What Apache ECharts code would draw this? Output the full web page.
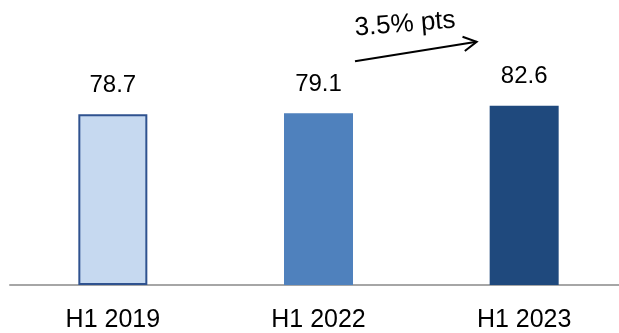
<!DOCTYPE html>
<html>
<head>
<meta charset="utf-8">
<script src="https://cdn.jsdelivr.net/npm/echarts@6/dist/echarts.min.js"></script>
<style>
  html, body { margin: 0; padding: 0; background: #fff; }
  #chart { width: 619px; height: 333px; }
</style>
</head>
<body>
<div id="chart"></div>
<script>
// Half-year periods and their values
const periods = ['H1 2019', 'H1 2022', 'H1 2023'];
const values = [78.7, 79.1, 82.6];
const barColors = ['#c6d9f0', '#4f81bd', '#1f497d'];
const changeLabel = '3.5% pts';

const FONT = '"Liberation Sans", Arial, sans-serif';

const chart = echarts.init(document.getElementById('chart'), null, { renderer: 'canvas' });

const option = {
  animation: false,
  backgroundColor: '#fff',
  grid: {
    left: 10, width: 617, top: 68, height: 217,
    outerBoundsMode: 'none',
    containLabel: false
  },
  xAxis: {
    type: 'category',
    data: periods,
    axisLine: { show: true, lineStyle: { color: '#a6a6a6', width: 2 } },
    axisTick: { show: false },
    axisLabel: { color: '#000', fontFamily: FONT, fontSize: 25, margin: 23 }
  },
  yAxis: {
    type: 'value',
    min: 0,
    max: 100,
    show: false,
    splitLine: { show: false }
  },
  series: [{
    type: 'bar',
    barWidth: 69,
    data: values.map((v, i) => ({
      value: v,
      itemStyle: i === 0
        ? { color: barColors[i], borderColor: '#2f528f', borderWidth: 2 }
        : { color: barColors[i] }
    })),
    label: {
      show: true,
      position: 'top',
      distance: 17,
      color: '#000',
      fontFamily: FONT,
      fontSize: 24,
      formatter: p => p.value.toFixed(1)
    }
  }]
};

chart.setOption(option);

// Trend arrow between the last two bars, placed from the axis scales
const p2 = chart.convertToPixel({ gridIndex: 0 }, [1, values[1]]);
const p3 = chart.convertToPixel({ gridIndex: 0 }, [2, values[2]]);
const x1 = p2[0] + 36.5, y1 = p2[1] - 52;
const x2 = p3[0] - 47.5, y2 = p3[1] - 64;
const ang = Math.atan2(y2 - y1, x2 - x1);
const head = 15, spread = 0.5;
chart.setOption({
  graphic: [
    {
      type: 'polyline',
      shape: { points: [[x1, y1], [x2, y2]] },
      style: { stroke: '#000', lineWidth: 2 }
    },
    {
      type: 'polyline',
      shape: {
        points: [
          [x2 - head * Math.cos(ang - spread), y2 - head * Math.sin(ang - spread)],
          [x2, y2],
          [x2 - head * Math.cos(ang + spread), y2 - head * Math.sin(ang + spread)]
        ]
      },
      style: { stroke: '#000', lineWidth: 2, fill: null }
    },
    {
      type: 'text',
      x: x1 + 50,
      y: y1 - 37,
      rotation: 0.08,
      style: {
        text: changeLabel,
        fill: '#000',
        font: '26px ' + FONT,
        align: 'center',
        verticalAlign: 'middle'
      }
    }
  ]
});
</script>
</body>
</html>
